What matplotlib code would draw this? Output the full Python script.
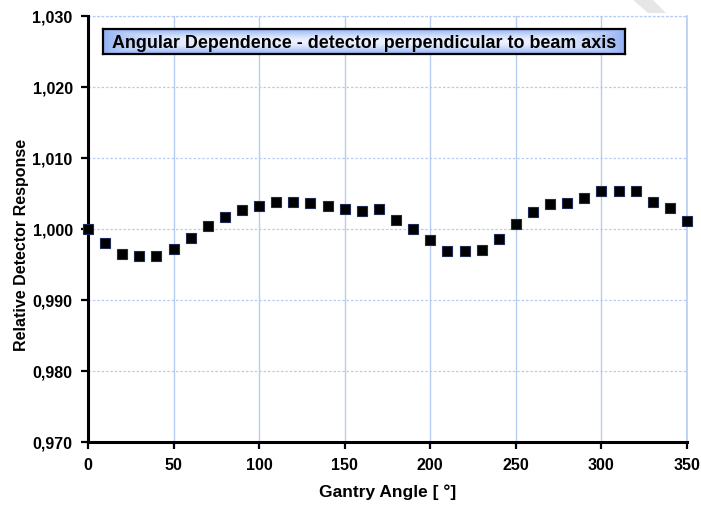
import numpy as np
import matplotlib
matplotlib.use("Agg")
import matplotlib.pyplot as plt
from matplotlib.ticker import FuncFormatter, MultipleLocator
from matplotlib.patches import Polygon

# data
angles = [0, 10, 20, 30, 40, 50, 60, 70, 80, 90, 100, 110, 120, 130, 140, 150, 160, 170,
          180, 190, 200, 210, 220, 230, 240, 250, 260, 270, 280, 290, 300, 310, 320, 330, 340, 350]
response = [1.0000, 0.9980, 0.9965, 0.9962, 0.9962, 0.9972, 0.9988, 1.0004, 1.0017, 1.0027,
            1.0032, 1.0038, 1.0038, 1.0037, 1.0032, 1.0028, 1.0025, 1.0028, 1.0013, 1.0000,
            0.9985, 0.9969, 0.9969, 0.9970, 0.9986, 1.0007, 1.0024, 1.0035, 1.0036, 1.0044,
            1.0053, 1.0053, 1.0053, 1.0038, 1.0030, 1.0011]
title = "Angular Dependence - detector perpendicular to beam axis"

FONT = ["Liberation Sans Narrow", "Liberation Sans", "DejaVu Sans"]
GRID = "#b7ccf2"

fig = plt.figure(figsize=(7.01, 5.06), dpi=100, facecolor="white")
ax = fig.add_axes([88 / 701, 63 / 506, 599 / 701, 426 / 506])

ax.set_xlim(0, 350)
ax.set_ylim(0.970, 1.030)
ax.xaxis.set_major_locator(MultipleLocator(50))
ax.yaxis.set_major_locator(MultipleLocator(0.010))
ax.yaxis.set_major_formatter(FuncFormatter(lambda v, _: f"{v:.3f}".replace(".", ",")))

ax.grid(axis="x", color=GRID, linewidth=1.0, linestyle="-", zorder=0)
ax.grid(axis="y", color=GRID, linewidth=0.9, linestyle=(0, (2, 1.5)), zorder=0)
ax.set_axisbelow(True)

for side in ("top", "right"):
    ax.spines[side].set_visible(False)
for side in ("left", "bottom"):
    ax.spines[side].set_linewidth(2.2)
    ax.spines[side].set_color("black")

# top dashed grid line and right solid grid line (gridlines at the limits get clipped)
ax.axhline(1.030, color=GRID, linewidth=0.9, linestyle=(0, (2, 1.5)), zorder=0, clip_on=False)
ax.axvline(350, color=GRID, linewidth=1.2, zorder=0, clip_on=False)

ax.tick_params(direction="out", length=5, width=1.6, colors="black", pad=6)
for lbl in ax.get_xticklabels() + ax.get_yticklabels():
    lbl.set_family(FONT)
    lbl.set_fontweight("bold")
    lbl.set_fontsize(11.5)

ax.plot(angles, response, linestyle="none", marker="s", markersize=6.6,
        markerfacecolor="black", markeredgecolor="#1c2a55", markeredgewidth=0.8,
        zorder=5, clip_on=False)

ax.set_xlabel("Gantry Angle [ °]", family=FONT, fontweight="bold", fontsize=12.5, labelpad=8)
ax.set_ylabel("Relative Detector Response", family=FONT, fontweight="bold", fontsize=11.5)
ax.yaxis.set_label_coords(-0.098, 0.465)

# title box with a light gradient fill
x0, x1 = 103 / 701, 625 / 701
y0, y1 = 1 - 55 / 506, 1 - 30 / 506
gx, gy = np.meshgrid(np.linspace(-1, 1, 200), np.linspace(-1, 1, 30))
dist = np.maximum(np.abs(gx) ** 6, np.abs(gy) ** 1.5)
c_in = np.array([0.93, 0.95, 1.0])
c_out = np.array([0.58, 0.70, 0.95])
grad = c_in + (c_out - c_in) * np.clip(dist, 0, 1)[..., None]
bax = fig.add_axes([x0, y0, x1 - x0, y1 - y0])
bax.imshow(grad, aspect="auto", extent=(0, 1, 0, 1))
bax.set_xticks([])
bax.set_yticks([])
for sp in bax.spines.values():
    sp.set_linewidth(1.6)
    sp.set_color("black")
bax.text(0.5, 0.48, title, ha="center", va="center", family=["Liberation Sans", "DejaVu Sans"],
         fontweight="bold", fontsize=12.9, color="black")

# faint watermark fragment in the upper right corner
fig.patches.append(Polygon([[632 / 701, 1.0], [652 / 701, 1.0], [666 / 701, 1 - 14 / 506],
                            [648 / 701, 1 - 14 / 506]], closed=True, transform=fig.transFigure,
                           facecolor="#e6e6e6", edgecolor="none", zorder=0))

fig.savefig("out.png", dpi=100, facecolor="white")
